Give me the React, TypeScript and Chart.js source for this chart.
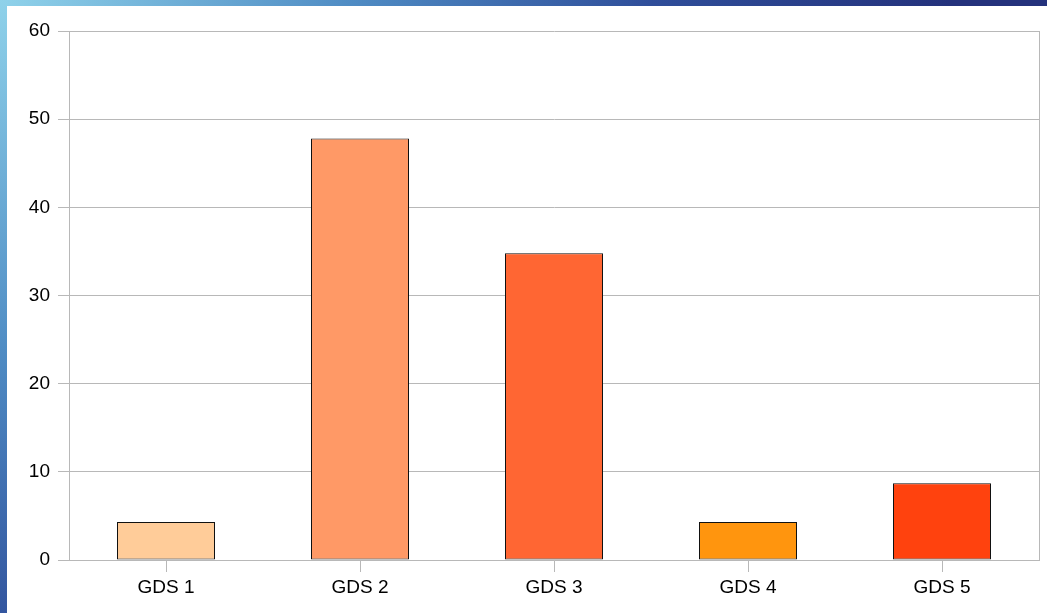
import React, { useEffect, useRef } from "react";
import { Chart, registerables } from "chart.js";

Chart.register(...registerables);

const categories = ["GDS 1", "GDS 2", "GDS 3", "GDS 4", "GDS 5"];
const values = [4.3, 47.8, 34.8, 4.3, 8.7];
const barColors = ["#FFCC99", "#FF9966", "#FF6633", "#FF950E", "#FF420E"];
const yMin = 0;
const yMax = 60;
const yStep = 10;

const GRID = "#b8b8b8";
const FONT = "'Liberation Sans', Arial, sans-serif";

const rightBorder = {
  id: "rightBorder",
  afterDraw(chart: any) {
    const { ctx, chartArea } = chart;
    ctx.save();
    ctx.strokeStyle = GRID;
    ctx.lineWidth = 1;
    const x = Math.round(chartArea.right) + 0.5;
    ctx.beginPath();
    ctx.moveTo(x, chartArea.top);
    ctx.lineTo(x, chartArea.bottom);
    ctx.stroke();
    ctx.restore();
  },
};

export default function App() {
  const ref = useRef<HTMLCanvasElement>(null);
  useEffect(() => {
    if (!ref.current) return;
    const chart = new Chart(ref.current, {
      type: "bar",
      data: {
        labels: categories,
        datasets: [
          {
            data: values,
            backgroundColor: barColors,
            borderColor: "#111111",
            borderWidth: 1,
            borderSkipped: false,
            barPercentage: 98 / 194,
            categoryPercentage: 1.0,
          },
        ],
      },
      options: {
        responsive: false,
        animation: false,
        layout: { padding: { left: 0, top: 25, right: 8, bottom: 0 } },
        plugins: { legend: { display: false }, tooltip: { enabled: false } },
        scales: {
          x: {
            grid: {
              drawOnChartArea: false,
              drawTicks: true,
              offset: false,
              tickLength: 12,
              color: GRID,
            },
            border: { display: true, color: GRID },
            ticks: {
              color: "#000",
              font: { family: FONT, size: 19 },
              padding: 4,
              maxRotation: 0,
            },
            afterFit: (s: any) => {
              s.height = 53;
            },
          },
          y: {
            min: yMin,
            max: yMax,
            grid: { color: GRID, tickLength: 11, drawTicks: true },
            border: { display: true, color: GRID },
            ticks: {
              stepSize: yStep,
              color: "#000",
              font: { family: FONT, size: 19 },
              padding: 8,
            },
            afterFit: (s: any) => {
              s.width = 62;
            },
          },
        },
      },
      plugins: [rightBorder],
    });
    return () => chart.destroy();
  }, []);

  return (
    <div
      style={{
        position: "fixed",
        left: 0,
        top: 0,
        width: 1047,
        height: 613,
        background:
          "radial-gradient(circle at 0 0, #8fd2ea 0px, #4f8cc4 350px, #2f4e9a 650px, #24327c 950px)",
        overflow: "hidden",
      }}
    >
      <div
        style={{
          position: "absolute",
          left: 7,
          top: 6,
          width: 1040,
          height: 607,
          background: "#ffffff",
        }}
      >
        <canvas ref={ref} width={1040} height={607} style={{ display: "block" }} />
      </div>
    </div>
  );
}
